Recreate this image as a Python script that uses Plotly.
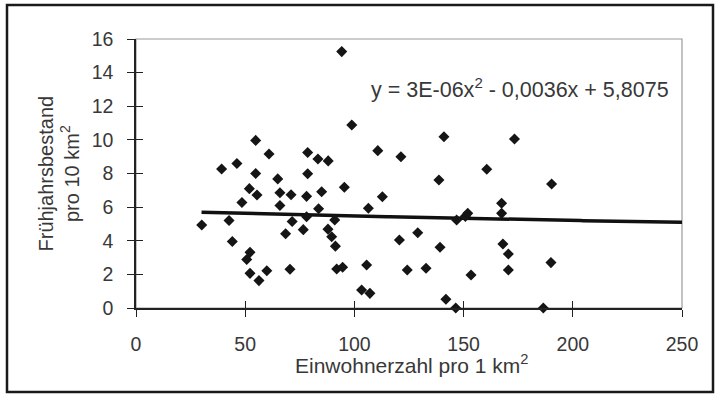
import numpy as np
import plotly.graph_objects as go

# --- data ---
einwohner = [30.1, 39.2, 42.6, 44.1, 46.2, 48.5, 50.7, 51.9, 52.2, 52.2,
             54.8, 54.8, 55.4, 56.3, 59.9, 60.9, 64.9, 65.9, 65.9, 68.5,
             70.5, 71.0, 71.5, 76.6, 78.1, 78.1, 78.6, 78.6, 83.3, 83.6,
             85.0, 88.0, 87.9, 89.6, 91.0, 91.3, 91.9, 94.2, 94.6, 95.4,
             98.8, 103.3, 105.6, 106.4, 107.1, 110.7, 112.8, 120.6, 121.3, 124.2,
             129.0, 132.8, 138.7, 139.2, 141.0, 141.9, 146.4, 146.8, 150.8, 151.9,
             153.4, 160.6, 167.4, 167.4, 168.0, 170.5, 170.5, 173.3, 186.5, 190.0,
             190.3]
bestand = [4.94, 8.27, 5.20, 3.95, 8.60, 6.27, 2.88, 7.10, 3.31, 2.06,
           9.97, 8.00, 6.72, 1.63, 2.22, 9.16, 7.68, 6.86, 6.10, 4.42,
           2.30, 6.74, 5.14, 4.66, 5.43, 6.64, 7.99, 9.25, 8.86, 5.90,
           6.92, 8.75, 4.69, 4.24, 5.23, 3.68, 2.32, 15.25, 2.42, 7.18,
           10.89, 1.07, 2.56, 5.93, 0.87, 9.36, 6.62, 4.05, 9.00, 2.26,
           4.48, 2.36, 7.61, 3.61, 10.19, 0.52, 0.00, 5.23, 5.45, 5.63,
           1.96, 8.25, 6.23, 5.63, 3.81, 3.21, 2.26, 10.05, 0.00, 2.70,
           7.38]

# trendline coefficients as printed in the chart (a*x^2 + b*x + c)
trend_coef = [3e-06, -0.0036, 5.8075]
trend_range = [30, 250]
equation_text = "y = 3E-06x<sup>2</sup> - 0,0036x + 5,8075"

x_ticks = [0, 50, 100, 150, 200, 250]
y_ticks = [0, 2, 4, 6, 8, 10, 12, 14, 16]

# --- layout geometry (pixels) ---
W, H = 718, 395
L, R, T, B = 136, 682, 39, 308


def px_x(p):
    return (p - L) / (R - L)


def px_y(p):
    return (B - p) / (B - T)


FONT = "Liberation Sans, Arial, sans-serif"
TXT = "#383838"

tx = np.linspace(trend_range[0], trend_range[1], 200)
ty = np.polyval(trend_coef, tx)

fig = go.Figure()
fig.add_trace(go.Scatter(
    x=tx, y=ty, mode="lines",
    line=dict(color="#111111", width=3.5),
    hoverinfo="skip", showlegend=False))
fig.add_trace(go.Scatter(
    x=einwohner, y=bestand, mode="markers",
    marker=dict(symbol="diamond", size=8.5, color="#151515"),
    cliponaxis=False, showlegend=False))

# invisible trace on second axes, used for the crossing tick marks
fig.add_trace(go.Scatter(x=[0], y=[0], xaxis="x2", yaxis="y2", mode="markers",
                         marker=dict(opacity=0), showlegend=False,
                         hoverinfo="skip"))

axis_common = dict(showgrid=False, zeroline=False)
fig.update_layout(
    width=W, height=H,
    margin=dict(l=L, r=W - R, t=T, b=H - B, pad=0),
    paper_bgcolor="white", plot_bgcolor="white",
    font=dict(family=FONT, color=TXT, size=19),
    xaxis=dict(range=[0, 250], tickvals=x_ticks, ticks="outside", ticklen=7,
               tickwidth=1.3, tickcolor="#222", showline=True, linecolor="#222",
               linewidth=1.5, ticklabelstandoff=11,
               tickfont=dict(size=19.5, color=TXT, family=FONT), **axis_common),
    yaxis=dict(range=[0, 16], tickvals=y_ticks, ticks="outside", ticklen=7,
               tickwidth=1.3, tickcolor="#222", showline=True, linecolor="#222",
               linewidth=1.5, ticklabelstandoff=10,
               tickfont=dict(size=19.5, color=TXT, family=FONT), **axis_common),
    xaxis2=dict(range=[0, 250], tickvals=x_ticks, ticks="inside", ticklen=7,
                tickwidth=1.3, tickcolor="#222", showticklabels=False,
                overlaying="x", side="bottom", showline=False, **axis_common),
    yaxis2=dict(range=[0, 16], tickvals=y_ticks, ticks="inside", ticklen=7,
                tickwidth=1.3, tickcolor="#222", showticklabels=False,
                overlaying="y", side="left", showline=False, **axis_common),
    showlegend=False,
)

# plot-area frame (grey top/right) and outer black frame
fig.add_shape(type="rect", xref="paper", yref="paper", x0=0, x1=1, y0=0, y1=1,
              line=dict(color="#9a9a9a", width=1.2), layer="below")
fig.add_shape(type="rect", xref="paper", yref="paper",
              x0=px_x(7), x1=px_x(713), y0=px_y(392), y1=px_y(5),
              line=dict(color="#1a1a1a", width=2.5))

# titles
fig.add_annotation(text="Frühjahrsbestand<br>pro 10 km<sup>2</sup>",
                   xref="paper", yref="paper", x=px_x(58), y=0.5,
                   xanchor="center", yanchor="middle", textangle=-90,
                   showarrow=False, font=dict(size=20, color=TXT, family=FONT))
fig.add_annotation(text="Einwohnerzahl pro 1 km<sup>2</sup>",
                   xref="paper", yref="paper", x=px_x(411), y=px_y(364),
                   xanchor="center", yanchor="middle",
                   showarrow=False, font=dict(size=21, color=TXT, family=FONT))
fig.add_annotation(text=equation_text, xref="paper", yref="paper",
                   x=px_x(520), y=px_y(88), xanchor="center", yanchor="middle",
                   showarrow=False, font=dict(size=21.5, color=TXT, family=FONT))

fig.write_html("out.html")
